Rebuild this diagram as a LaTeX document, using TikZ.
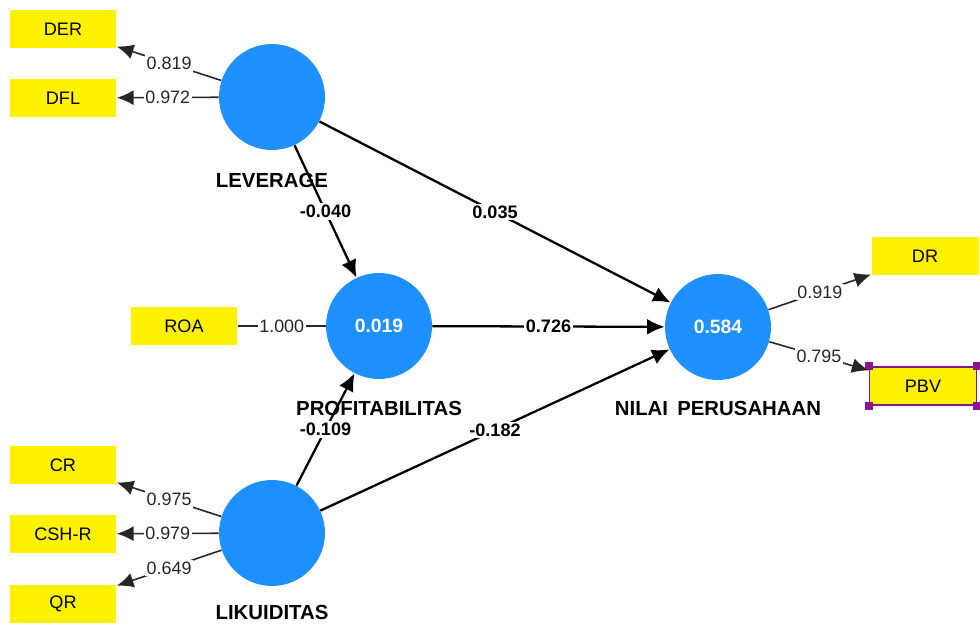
\documentclass[tikz,border=0pt]{standalone}
\usepackage{fontspec}
\setmainfont{Liberation Sans}
\usetikzlibrary{arrows.meta, positioning}
\definecolor{plsblue}{RGB}{30,144,255}
\definecolor{plspurple}{RGB}{140,20,140}

\begin{document}
\begin{tikzpicture}[x=0.02cm, y=-0.02cm,
					latent/.style={circle,
					fill=plsblue,
					minimum size=2.12cm,
					inner sep=0pt,
					text=white,
					font=\fontsize{11}{13}\selectfont\bfseries},
					indicator/.style={rectangle,
					fill=yellow,
 					minimum width=2.14cm,
					minimum height=0.76cm,
					inner sep=0pt,
					font=\fontsize{10.3}{12}\selectfont},
					lvname/.style={font=\fontsize{11.6}{13}\selectfont\bfseries},
					loading/.style={fill=white, inner sep=1pt, font=\fontsize{10.2}{12}\selectfont},
					pathcoef/.style={fill=white, inner sep=1pt, font=\fontsize{10.3}{12}\selectfont\bfseries},
					outer/.style={-{Latex[length=9.5pt,width=8.5pt]}, black!85, line width=0.9pt},
					inner/.style={-{Latex[length=10pt,width=9pt]}, black, line width=1.3pt}
					]

\useasboundingbox (0,0) rectangle (980,628);

%latent variables
\node[latent]  (lev)   at (272,97)  {};
\node[latent]  (prof)  at (379,326) {0.019};
\node[latent]  (nilai) at (718,327) {0.584};
\node[latent]  (lik)   at (272,533) {};

%latent names
\node[lvname]  (levname)   at (272,180) {LEVERAGE};
\node[lvname]  (profname)  at (379,408) {PROFITABILITAS};
\node[lvname]  (nilainame) at (718,408) {NILAI\hspace{0.45em}PERUSAHAAN};
\node[lvname]  (likname)   at (272,612) {LIKUIDITAS};

% indicator nodes
\node[indicator]  (der)  at (63,29) {DER};
\node[indicator]  (dfl)  [below of = der, node distance=1.38cm] {DFL};
\node[indicator]  (roa)  at (184,326) {ROA};
\node[indicator]  (cr)   at (63,465) {CR};
\node[indicator]  (cshr) [below of = cr, node distance=1.38cm] {CSH-R};
\node[indicator]  (qr)   [below of = cshr, node distance=1.4cm] {QR};
\node[indicator]  (dr)   at (925,256) {DR};
\node[indicator, draw=plspurple, line width=1pt]  (pbv)  at (923,386) {PBV};

% selection handles on PBV
\foreach \a in {north west, north east, south west, south east}
  \fill[plspurple] (pbv.\a) ++(-4,-4) rectangle ++(8,8);

% outer model
\path[outer] (lev) edge node[loading] {0.819} (der);
\path[outer] (lev) edge node[loading] {0.972} (dfl);
\path[black!85, line width=0.9pt] (prof) edge node[loading] {1.000} (roa);
\path[outer] (lik) edge node[loading] {0.975} (cr);
\path[outer] (lik) edge node[loading] {0.979} (cshr);
\path[outer] (lik) edge node[loading] {0.649} (qr);
\path[outer] (nilai) edge node[loading] {0.919} (dr);
\path[outer] (nilai) edge node[loading] {0.795} (pbv);

% inner model
\path[inner] (lev) edge node[pathcoef] {-0.040} (prof);
\path[inner] (lev) edge node[pathcoef] {0.035} (nilai);
\path[inner] (prof) edge node[pathcoef] {0.726} (nilai);
\path[inner] (lik) edge node[pathcoef] {-0.109} (prof);
\path[inner] (lik) edge node[pathcoef] {-0.182} (nilai);

\end{tikzpicture}
\end{document}
